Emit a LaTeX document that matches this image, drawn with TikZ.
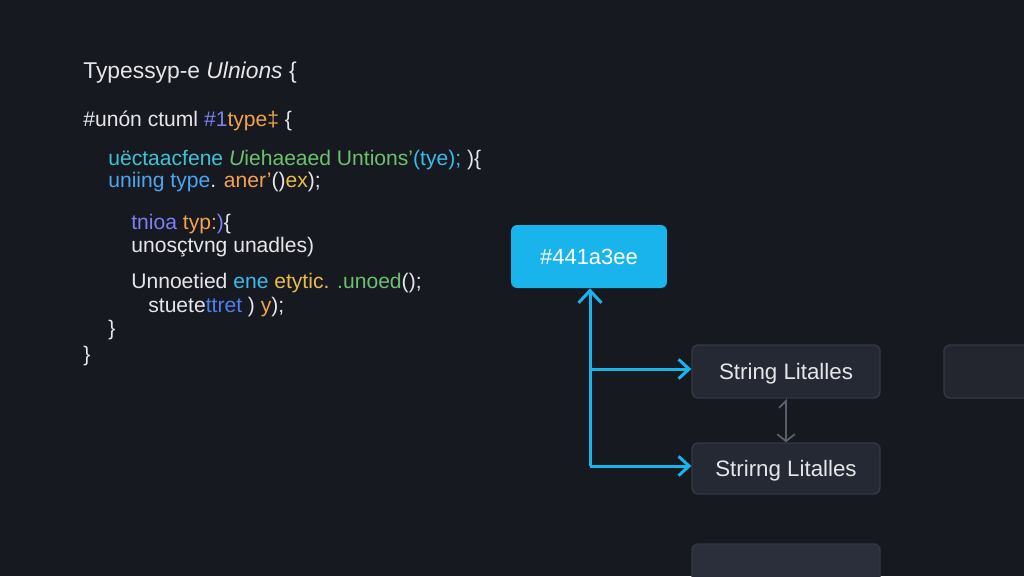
\documentclass[tikz,border=0pt]{standalone}
\usepackage{fontspec}
\setmainfont{Liberation Sans}
\usetikzlibrary{arrows.meta}
\definecolor{bg}{HTML}{171921}
\definecolor{txt}{HTML}{E6E6EA}
\definecolor{cpurple}{HTML}{7C80F2}
\definecolor{corange}{HTML}{F0A24E}
\definecolor{cteal}{HTML}{3EC2D6}
\definecolor{cblue}{HTML}{4AA6F2}
\definecolor{cgreen}{HTML}{6CC06E}
\definecolor{ccyan}{HTML}{38BCEA}
\definecolor{cyellow}{HTML}{E8BC48}
\definecolor{cdblue}{HTML}{4C7EF0}
\definecolor{accent}{HTML}{1AB4EC}
\definecolor{boxfill}{HTML}{252933}
\definecolor{boxline}{HTML}{343844}
\definecolor{boxfilltwo}{HTML}{23262F}
\definecolor{boxfillthree}{HTML}{2A2F3B}
\definecolor{garrow}{HTML}{5A5F6C}
\begin{document}
\begin{tikzpicture}[x=0.02cm,y=-0.02cm,
  code/.style={anchor=base west, inner sep=0pt, text=txt, font=\fontsize{12pt}{14pt}\selectfont},
  title/.style={code, font=\fontsize{13pt}{15pt}\selectfont},
  darkbox/.style={draw=boxline, line width=0.8pt, fill=boxfill, rounded corners=3.5pt, text=txt,
    font=\fontsize{12.7pt}{15pt}\selectfont, inner sep=0pt, minimum width=3.76cm,
    text height=9.1pt, text depth=0pt},
  hexbox/.style={fill=accent, rounded corners=3.5pt, text=white,
    font=\fontsize{12.5pt}{15pt}\selectfont, inner sep=0pt, minimum width=3.12cm, minimum height=1.26cm,
    text height=9pt, text depth=0pt},
  link/.style={draw=accent, line width=1.7pt, -{Straight Barb[length=6pt,width=11pt]}},
  uplink/.style={draw=accent, line width=1.7pt, -{Straight Barb[length=7pt,width=13pt]}},
  glink/.style={draw=garrow, line width=1pt, {Straight Barb[harpoon,length=4pt,width=8pt]}-{Straight Barb[length=4pt,width=10pt]}}
]
\useasboundingbox (0,0) rectangle (1024,576);
\clip (0,0) rectangle (1024,576);
\fill[bg] (0,0) rectangle (1024,576);

% code text
\node[title] (l0) at (83,78) {Typessyp-e \textit{Ulnions} \{};
\node[code] (l1) at (83,126) {\#unón ctuml {\color{cpurple}\#1}{\color{corange}type‡} \{};
\node[code] (l2) at (108,165) {{\color{cteal}uëctaacfene} {\color{cgreen}\textit{U}iehaeaed Untions'}{\color{ccyan}(tye);} )\{};
\node[code] (l3) at (108,187) {{\color{cblue}uniing type}. {\color{corange}aner'}(){\color{cyellow}ex});};
\node[code] (l4) at (131,229) {{\color{cpurple}tnioa} {\color{corange}typ:}{\color{cpurple})}\{};
\node[code] (l5) at (131,252) {unosçtvng unadles)};
\node[code] (l6) at (131,288) {Unnoetied {\color{ccyan}ene} {\color{cyellow}etytic.} {\color{cgreen}.unoed}();};
\node[code] (l7) at (148,312) {stuete{\color{cdblue}ttret} ) {\color{corange}y});};
\node[code] (l8) at (108,335) {\}};
\node[code] (l9) at (83,361) {\}};

% boxes
\node[hexbox] (hex) at (589,256.5) {\#441a3ee};
\node[darkbox, minimum height=1.06cm] (s1) at (786,371.5) {String Litalles};
\node[darkbox, minimum height=1.02cm] (s2) at (786,468.5) {Strirng Litalles};
\node[darkbox, fill=boxfilltwo, minimum width=1.92cm, minimum height=1.06cm] (s3) at (992,371.5) {};
\node[darkbox, fill=boxfillthree, minimum height=1.12cm] (s4) at (786,572) {};

% connectors
\coordinate (j1) at (590,369);
\coordinate (j2) at (590,466);
\draw[uplink] (j2) -- (hex.south -| j2);
\draw[link] (j1) -- (s1.west |- j1);
\draw[link] (j2) -- (s2.west |- j2);
\draw[glink] (s1.south) -- (s2.north);
\end{tikzpicture}
\end{document}
